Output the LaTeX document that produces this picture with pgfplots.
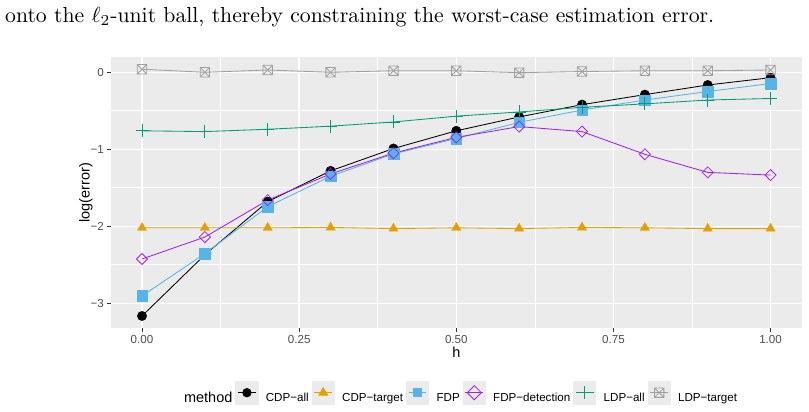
\documentclass[border=0pt]{standalone}
\usepackage{pgfplots}
\pgfplotsset{compat=1.18}
\usepackage{pgfplotstable}
\usepackage{fontspec}
\newfontfamily\plotfont{Liberation Sans}

\definecolor{panelbg}{HTML}{EBEBEB}
\definecolor{keybg}{HTML}{EBEBEB}
\definecolor{tickcol}{HTML}{333333}
\definecolor{ticklab}{HTML}{4D4D4D}
\definecolor{cdpallc}{HTML}{000000}
\definecolor{cdptc}{HTML}{E69F00}
\definecolor{fdpc}{HTML}{56B4E9}
\definecolor{fdpdetc}{HTML}{A020F0}
\definecolor{ldpallc}{HTML}{009E73}
\definecolor{ldptc}{HTML}{A0A0A0}

% open square with a diagonal cross
\pgfdeclareplotmark{boxx}{%
  \pgfpathrectangle{\pgfqpoint{-\pgfplotmarksize}{-\pgfplotmarksize}}{\pgfqpoint{2\pgfplotmarksize}{2\pgfplotmarksize}}%
  \pgfpathmoveto{\pgfqpoint{-\pgfplotmarksize}{-\pgfplotmarksize}}%
  \pgfpathlineto{\pgfqpoint{\pgfplotmarksize}{\pgfplotmarksize}}%
  \pgfpathmoveto{\pgfqpoint{-\pgfplotmarksize}{\pgfplotmarksize}}%
  \pgfpathlineto{\pgfqpoint{\pgfplotmarksize}{-\pgfplotmarksize}}%
  \pgfusepathqstroke}

\pgfplotstableread{
h    cdpall  cdptarget fdp     fdpdet  ldpall  ldptarget
0.0  -3.165  -2.020    -2.905  -2.425  -0.760   0.040
0.1  -2.370  -2.020    -2.355  -2.140  -0.770   0.000
0.2  -1.680  -2.020    -1.745  -1.660  -0.740   0.030
0.3  -1.280  -2.015    -1.350  -1.320  -0.700   0.000
0.4  -0.990  -2.030    -1.060  -1.050  -0.645   0.020
0.5  -0.760  -2.020    -0.860  -0.845  -0.570   0.020
0.6  -0.580  -2.030    -0.650  -0.705  -0.515  -0.005
0.7  -0.420  -2.015    -0.490  -0.770  -0.455   0.010
0.8  -0.290  -2.020    -0.360  -1.065  -0.410   0.020
0.9  -0.165  -2.030    -0.250  -1.300  -0.360   0.020
1.0  -0.070  -2.030    -0.145  -1.335  -0.340   0.030
}\errtable

\begin{document}
\begin{tikzpicture}
\path[use as bounding box] (0pt,0pt) rectangle (809pt,412pt);
\node[anchor=base west, inner sep=0pt] at (5pt,389.3pt)
  {\resizebox{709pt}{!}{onto the $\ell_2$-unit ball, thereby constraining the worst-case estimation error.}};
\begin{axis}[
  at={(110.6pt,83.7pt)}, anchor=south west,
  scale only axis, width=691.4pt, height=271.4pt,
  xmin=-0.05, xmax=1.05, ymin=-3.325, ymax=0.2,
  axis background/.style={fill=panelbg},
  axis line style={draw=none},
  xtick={0,0.25,0.5,0.75,1}, xticklabels={0.00,0.25,0.50,0.75,1.00},
  ytick={-3,-2,-1,0}, yticklabels={−3,−2,−1,0},
  minor xtick={0.125,0.375,0.625,0.875}, minor ytick={-2.5,-1.5,-0.5},
  grid=both,
  major grid style={white, line width=1.4pt},
  minor grid style={white, line width=0.7pt},
  tick align=outside, major tick length=3.6pt, minor tick length=0pt,
  tick style={draw=tickcol, line width=0.7pt},
  xtick pos=bottom, ytick pos=left,
  ticklabel style={font=\plotfont\fontsize{11.6}{13}\selectfont, text=ticklab, inner sep=0pt},
  xticklabel shift=2.9pt, yticklabel shift=2.9pt,
  xlabel={h}, ylabel={log(error)},
  every axis x label/.style={at={(axis description cs:0.5,-0.1094)}, anchor=base,
    font=\plotfont\fontsize{14.5}{16}\selectfont, inner sep=0pt},
  every axis y label/.style={at={(axis description cs:-0.0356,0.5)}, rotate=90, anchor=center,
    font=\plotfont\fontsize{14.5}{16}\selectfont, inner sep=0pt},
  legend image code/.code={
    \fill[keybg] (0pt,-6.05pt) rectangle (22.2pt,16.65pt);
    \draw[mark repeat=2, mark phase=2, #1] plot coordinates {(2.3pt,5.3pt) (11.1pt,5.3pt) (19.9pt,5.3pt)};
  },
  legend columns=7,
  legend cell align=left,
  legend style={at={(axis description cs:0.0955,-0.2373)}, anchor=west,
    draw=none, fill=none, inner sep=0pt, outer sep=0pt,
    font=\plotfont\fontsize{11.6}{13}\selectfont, nodes={inner sep=0pt},
    /tikz/every odd column/.append style={column sep=7.4pt},
    /tikz/every even column/.append style={column sep=3pt}},
]
% connecting lines, drawn beneath all markers
\addplot[cdpallc, line width=0.85pt, forget plot] table[x=h, y=cdpall]{\errtable};
\addplot[cdptc, line width=0.85pt, forget plot] table[x=h, y=cdptarget]{\errtable};
\addplot[fdpc, line width=0.85pt, forget plot] table[x=h, y=fdp]{\errtable};
\addplot[fdpdetc, line width=0.85pt, forget plot] table[x=h, y=fdpdet]{\errtable};
\addplot[ldpallc, line width=0.85pt, forget plot] table[x=h, y=ldpall]{\errtable};
\addplot[ldptc, line width=0.85pt, forget plot] table[x=h, y=ldptarget]{\errtable};
% markers
\addplot[only marks, cdpallc, mark=*, mark size=4.7pt, forget plot] table[x=h, y=cdpall]{\errtable};
\addplot[only marks, cdptc, mark=triangle*, mark size=5.3pt, forget plot] table[x=h, y=cdptarget]{\errtable};
\addplot[only marks, fdpc, mark=square*, mark size=5.3pt, forget plot] table[x=h, y=fdp]{\errtable};
\addplot[only marks, fdpdetc, mark=square, mark size=3.9pt, mark options={rotate=45, line width=0.8pt}, forget plot] table[x=h, y=fdpdet]{\errtable};
\addplot[only marks, ldpallc, mark=+, mark size=6.5pt, mark options={line width=0.8pt}, forget plot] table[x=h, y=ldpall]{\errtable};
\addplot[only marks, ldptc, mark=boxx, mark size=4.7pt, mark options={line width=0.8pt}, forget plot] table[x=h, y=ldptarget]{\errtable};
% legend
\addlegendimage{empty legend}
\addlegendentry{{\fontsize{14.5}{16}\selectfont method}\hspace{3pt}}
\addlegendimage{cdpallc, line width=0.85pt, mark=*, mark size=4.2pt}
\addlegendentry{CDP−all}
\addlegendimage{cdptc, line width=0.85pt, mark=triangle*, mark size=5pt}
\addlegendentry{CDP−target}
\addlegendimage{fdpc, line width=0.85pt, mark=square*, mark size=4.2pt}
\addlegendentry{FDP}
\addlegendimage{fdpdetc, line width=0.85pt, mark=square, mark size=5pt, mark options={rotate=45}}
\addlegendentry{FDP−detection}
\addlegendimage{ldpallc, line width=0.85pt, mark=+, mark size=6.5pt}
\addlegendentry{LDP−all}
\addlegendimage{ldptc, line width=0.85pt, mark=boxx, mark size=4.7pt}
\addlegendentry{LDP−target}
\end{axis}
\end{tikzpicture}
\end{document}
